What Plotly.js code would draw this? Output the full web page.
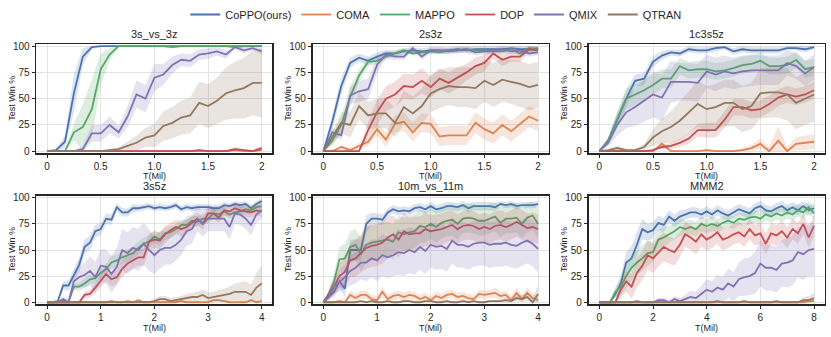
<!DOCTYPE html>
<html>
<head>
<meta charset="utf-8">
<script src="https://cdn.plot.ly/plotly-3.0.1.min.js"></script>
<style>
  body { margin: 0; background: #fff; }
  #chart { width: 831px; height: 337px; }
</style>
</head>
<body>
<div id="chart"></div>
<script>
// method names and colours (seaborn "deep")
let methods = ["CoPPO(ours)", "COMA", "MAPPO", "DOP", "QMIX", "QTRAN"];
let colors = ["#4c72b0", "#dd8452", "#55a868", "#c44e52", "#8172b3", "#937860"];

// sample positions (T in millions)
let xTop = [0, 0.083, 0.167, 0.25, 0.333, 0.417, 0.5, 0.583, 0.667, 0.75, 0.833, 0.917, 1.0,
            1.083, 1.167, 1.25, 1.333, 1.417, 1.5, 1.583, 1.667, 1.75, 1.833, 1.917, 2.0];
let xMid = [0, 0.1, 0.2, 0.3, 0.4, 0.5, 0.6, 0.7, 0.8, 0.9, 1.0, 1.1, 1.2, 1.3, 1.4, 1.5, 1.6, 1.7, 1.8, 1.9, 2.0,
            2.1, 2.2, 2.3, 2.4, 2.5, 2.6, 2.7, 2.8, 2.9, 3.0, 3.1, 3.2, 3.3, 3.4, 3.5, 3.6, 3.7, 3.8, 3.9, 4.0];
let xLong = [0, 0.2, 0.4, 0.6, 0.8, 1.0, 1.2, 1.4, 1.6, 1.8, 2.0, 2.2, 2.4, 2.6, 2.8, 3.0, 3.2, 3.4, 3.6, 3.8, 4.0,
             4.2, 4.4, 4.6, 4.8, 5.0, 5.2, 5.4, 5.6, 5.8, 6.0, 6.2, 6.4, 6.6, 6.8, 7.0, 7.2, 7.4, 7.6, 7.8, 8.0];

// tick labels
let yTicks = [0, 25, 50, 75, 100];
let xTicksTop = [0, 0.5, 1, 1.5, 2];
let xTickTextTop = ["0", "0.5", "1.0", "1.5", "2"];
let xTicksMid = [0, 1, 2, 3, 4];
let xTicksLong = [0, 2, 4, 6, 8];

// ---- 3s_vs_3z : mean win % and spread ----
let s3v3z_coppo = [0,1,9,55,90,99,100,100,100,100,100,100,100,100,100,100,100,100,100,100,100,100,100,100,100];
let s3v3z_coppoSd = [0,1,6,18,8,2,1,1,1,1,1,1,1,1,1,1,1,1,1,1,1,1,1,1,1];
let s3v3z_coma = [0,0,0,0,0,0,0,0,0,0,0,0,0,0,0,0,0,0,0,0,0,1,0,0,1];
let s3v3z_comaSd = [0,0,0,0,0,0,0,0,0,0,0,0,0,0,0,0,0,0,0,0,0,1,1,1,1];
let s3v3z_mappo = [0,0,0,18,23,40,78,92,100,100,100,100,100,100,99,100,100,100,100,100,100,99,100,100,100];
let s3v3z_mappoSd = [0,0,1,8,22,28,15,6,1,1,1,1,1,1,1,1,1,1,1,1,1,1,1,1,1];
let s3v3z_dop = [0,0,0,0,0,0,0,0,0,0,0,0,0,0,0,0,0,1,0,0,0,2,1,0,3];
let s3v3z_dopSd = [0,0,0,0,0,0,0,0,0,0,0,0,0,0,0,0,0,1,1,0,1,2,1,1,2];
let s3v3z_qmix = [0,0,0,0,2,17,17,25,18,33,54,50,70,73,82,87,86,92,93,95,92,99,96,98,95];
let s3v3z_qmixSd = [0,0,0,1,3,8,8,8,6,10,13,13,13,10,8,6,6,5,5,4,4,2,3,2,3];
let s3v3z_qtran = [0,0,0,0,0,0,0,1,2,5,8,13,15,24,27,32,34,46,43,48,55,58,60,65,65];
let s3v3z_qtranSd = [0,0,0,0,0,0,1,1,2,4,7,9,11,14,15,16,17,20,21,22,25,27,29,31,33];

// ---- 2s3z ----
let s2s3z_coppo = [0,28,62,84,89,86,90,93,93,95,96,95,96,96,96,97,96,97,97,97,97,98,97,97,98];
let s2s3z_coppoSd = [0,8,8,5,4,4,4,3,3,3,3,3,3,3,3,3,3,3,3,3,3,3,3,3,3];
let s2s3z_coma = [0,0,4,1,5,9,21,11,26,28,18,27,26,14,15,15,15,27,21,17,25,19,26,33,29];
let s2s3z_comaSd = [0,0,2,2,3,4,6,7,8,9,9,9,9,9,9,9,9,10,10,10,10,10,10,10,10];
let s2s3z_mappo = [0,10,25,52,72,85,86,90,93,96,93,94,95,94,96,96,97,96,96,96,95,97,93,98,97];
let s2s3z_mappoSd = [0,5,8,10,6,4,3,3,2,2,2,2,2,2,2,2,2,2,2,2,2,2,3,2,2];
let s2s3z_dop = [0,0,0,0,0,20,37,50,54,62,61,67,61,69,65,70,75,81,84,93,87,90,90,97,96];
let s2s3z_dopSd = [0,0,0,0,0,8,12,12,12,12,12,12,10,10,10,10,8,8,8,5,6,5,5,3,3];
let s2s3z_qmix = [0,18,15,53,57,59,82,92,90,90,98,90,96,96,95,96,97,94,95,95,97,95,96,93,94];
let s2s3z_qmixSd = [0,4,4,8,10,10,8,4,3,3,2,3,3,3,3,3,3,3,3,3,3,3,3,3,3];
let s2s3z_qtran = [0,13,27,25,43,34,36,36,27,42,36,43,55,59,62,61,61,60,67,63,68,66,64,61,63];
let s2s3z_qtranSd = [0,6,10,12,13,13,14,14,14,16,16,17,18,18,18,19,19,20,20,21,21,21,22,22,22];

// ---- 1c3s5z ----
let s1c3s5z_coppo = [0,10,30,50,67,69,85,91,94,93,97,96,96,98,99,95,97,96,96,96,96,98,98,97,99];
let s1c3s5z_coppoSd = [0,3,6,8,6,6,5,4,3,3,3,3,3,3,2,3,3,3,3,3,3,2,2,3,2];
let s1c3s5z_coma = [0,0,0,0,0,0,0,7,0,0,0,0,1,0,0,0,1,3,7,0,10,0,7,8,9];
let s1c3s5z_comaSd = [0,0,0,0,0,0,1,3,1,0,0,0,1,1,1,1,2,3,5,4,14,4,6,7,7];
let s1c3s5z_mappo = [0,10,30,50,54,58,63,69,69,81,77,78,78,76,77,79,82,83,86,81,81,82,87,78,80];
let s1c3s5z_mappoSd = [0,4,8,10,10,10,10,9,9,8,8,8,8,8,8,8,8,8,8,8,8,8,8,8,8];
let s1c3s5z_dop = [0,0,0,0,0,0,1,4,5,8,12,20,20,20,30,42,42,39,40,45,51,54,52,54,58];
let s1c3s5z_dopSd = [0,0,0,0,0,0,1,2,3,4,5,6,7,7,8,8,8,8,8,8,8,8,8,8,8];
let s1c3s5z_qmix = [0,8,25,37,42,48,54,51,66,66,66,65,76,73,76,74,76,77,77,77,77,84,81,74,80];
let s1c3s5z_qmixSd = [0,4,10,15,18,20,22,22,20,18,18,18,16,16,15,15,15,15,14,14,14,12,12,12,12];
let s1c3s5z_qtran = [0,1,3,1,1,4,13,19,23,29,37,45,40,42,46,46,40,43,55,56,56,54,46,50,54];
let s1c3s5z_qtranSd = [0,1,2,1,1,3,8,12,15,18,20,22,22,22,22,22,22,22,24,24,24,25,25,25,26];

// ---- 3s5z ----
let s3s5z_coppo = [0,0,1,16,16,26,36,53,57,68,70,80,79,91,86,86,90,90,91,92,90,
                   91,90,91,93,89,91,90,91,91,91,90,90,93,92,94,93,94,90,94,97];
let s3s5z_coppoSd = [0,1,1,4,5,6,7,7,7,6,6,5,5,4,4,4,4,3,3,3,3,
                     3,3,3,3,3,3,3,3,3,3,3,3,3,3,3,3,3,3,3,3];
let s3s5z_coma = [0,0,0,0,0,0,0,0,0,0,0,0,1,0,0,1,0,2,0,0,0,
                  0,0,0,0,1,0,0,0,0,0,2,2,1,0,0,0,0,2,0,1];
let s3s5z_comaSd = [0,0,0,0,0,0,0,0,0,0,1,1,1,1,1,1,1,1,1,1,1,
                    1,1,1,1,1,1,1,1,1,1,1,1,1,1,1,1,1,1,1,1];
let s3s5z_mappo = [0,0,0,0,0,15,15,18,22,23,28,32,38,40,43,45,47,52,56,58,63,
                   60,66,67,70,74,74,78,77,80,80,85,84,87,84,86,87,89,88,91,92];
let s3s5z_mappoSd = [0,0,0,0,0,3,4,5,5,5,5,5,6,6,6,6,6,6,6,6,6,
                     6,6,6,5,5,5,5,5,5,5,5,5,4,4,4,4,4,4,4,4];
let s3s5z_dop = [0,0,0,0,0,0,0,7,8,14,20,27,22,24,32,37,40,43,43,58,60,
                 59,65,69,72,70,72,76,80,75,85,85,81,88,87,90,88,87,86,88,87];
let s3s5z_dopSd = [0,0,0,0,0,0,0,3,4,5,6,7,7,7,8,8,8,8,8,8,8,
                   8,8,7,7,7,7,6,6,6,6,5,5,5,5,5,5,5,5,5,5];
let s3s5z_qmix = [0,0,0,3,0,20,24,26,30,24,35,34,27,34,50,47,52,50,56,50,45,
                  50,52,52,55,60,68,70,80,75,80,80,80,80,72,85,84,80,74,84,88];
let s3s5z_qmixSd = [0,0,1,2,3,8,10,12,14,15,16,16,18,18,20,20,20,20,20,20,18,
                    18,16,16,15,15,14,14,12,12,12,12,12,12,12,10,10,10,10,8,8];
let s3s5z_qtran = [0,0,0,0,0,0,0,0,0,0,0,0,0,0,0,0,0,0,0,0,1,
                   3,3,1,2,3,4,5,5,7,4,5,6,7,8,10,10,10,7,14,18];
let s3s5z_qtranSd = [0,0,0,0,0,0,0,0,0,0,0,0,0,0,1,1,1,1,1,1,2,
                     3,3,3,3,3,4,4,5,5,5,5,6,6,7,8,9,10,10,14,17];

// ---- 10m_vs_11m ----
let s10m_coppo = [0,5,10,20,13,50,50,50,75,80,80,79,86,89,87,88,87,90,91,89,92,
                  89,90,92,92,91,93,90,92,92,92,92,91,94,93,94,92,93,93,93,94];
let s10m_coppoSd = [0,3,5,6,8,10,10,10,8,6,5,5,4,4,4,4,4,4,4,4,4,
                    4,4,4,4,4,4,4,4,4,4,4,4,3,3,3,3,3,3,3,3];
let s10m_coma = [0,0,0,1,0,7,4,7,7,3,2,10,3,6,7,5,7,6,3,5,2,
                 6,4,7,8,5,6,4,3,8,7,8,9,6,7,2,9,3,9,4,2];
let s10m_comaSd = [0,0,1,2,2,4,4,4,4,4,4,5,4,4,4,4,4,4,4,4,4,
                   4,4,4,4,4,4,4,4,4,4,4,5,4,4,4,5,4,5,4,4];
let s10m_mappo = [0,8,20,41,42,53,55,46,55,57,58,59,60,58,67,65,67,68,73,72,75,
                  72,76,78,79,75,80,81,80,78,78,80,82,76,80,80,81,75,81,83,75];
let s10m_mappoSd = [0,4,8,12,14,15,15,16,17,17,17,17,17,17,16,16,16,16,16,15,15,
                    15,15,15,15,15,14,14,14,14,14,14,14,14,14,14,14,14,14,14,14];
let s10m_dop = [0,7,15,25,29,40,42,47,52,54,55,57,62,65,60,68,65,66,66,70,68,
                69,70,72,74,70,73,74,73,70,72,70,73,74,72,74,77,74,71,72,70];
let s10m_dopSd = [0,4,8,12,14,16,18,18,20,20,20,20,20,18,18,18,16,16,16,16,15,
                  15,15,15,14,14,14,14,14,14,14,14,14,14,14,14,14,14,14,14,14];
let s10m_qmix = [0,5,15,20,24,30,33,38,38,42,40,45,43,45,48,47,50,48,53,49,55,
                 53,54,51,59,55,55,53,56,57,57,55,56,56,57,55,54,57,59,56,51];
let s10m_qmixSd = [0,3,6,10,12,14,15,16,18,18,20,20,20,20,22,22,22,22,22,22,22,
                   22,22,22,22,22,22,22,22,22,22,22,22,22,22,22,22,22,22,22,23];
let s10m_qtran = [0,0,0,0,0,0,0,1,0,1,0,0,1,0,0,1,1,0,0,1,1,
                  0,0,1,0,0,1,0,1,0,0,1,1,1,2,1,4,3,5,0,8];
let s10m_qtranSd = [0,0,1,1,1,1,1,1,1,1,1,1,1,1,1,1,1,1,1,1,1,
                    1,1,1,1,1,1,1,1,1,1,1,1,1,2,2,3,4,4,4,8];

// ---- MMM2 ----
let sMMM2_coppo = [0,0,0,8,18,38,42,55,70,67,69,76,74,82,78,82,84,86,86,84,87,
                   84,88,85,83,86,89,87,85,90,92,88,87,90,92,88,91,88,92,88,90];
let sMMM2_coppoSd = [0,0,1,4,8,10,12,12,10,8,8,7,7,6,6,6,5,5,5,5,5,
                     5,5,5,5,5,5,5,5,5,5,5,5,5,5,5,5,5,5,5,4];
let sMMM2_coma = [0,0,0,0,0,0,0,0,0,0,0,0,0,0,0,0,0,0,0,0,0,
                  0,0,0,0,0,0,0,0,0,0,0,0,0,0,0,0,0,0,1,1];
let sMMM2_comaSd = [0,0,0,0,0,0,0,0,0,0,0,0,0,0,0,0,0,0,0,0,0,
                    0,0,0,0,0,0,0,0,0,0,0,0,0,0,0,0,0,1,2,2];
let sMMM2_mappo = [0,0,0,10,15,25,33,38,42,47,48,60,62,65,68,72,70,72,70,75,73,
                   75,73,76,78,76,80,79,81,82,80,84,82,85,83,86,84,88,86,91,85];
let sMMM2_mappoSd = [0,0,1,5,8,12,12,12,12,12,10,10,10,8,8,8,8,7,7,7,7,
                     7,7,6,6,6,6,6,6,6,6,6,6,6,6,6,6,6,6,6,6];
let sMMM2_dop = [0,0,0,0,12,20,15,28,35,45,42,48,53,50,48,55,65,62,58,65,60,
                 63,67,60,62,65,67,63,70,64,66,56,66,64,68,62,70,66,75,62,73];
let sMMM2_dopSd = [0,0,0,2,8,10,12,14,14,14,14,14,14,13,13,12,12,12,12,12,11,
                   11,11,11,10,10,10,10,10,10,10,10,10,10,10,10,10,10,10,10,10];
let sMMM2_qmix = [0,0,0,0,0,0,0,1,0,0,0,2,2,0,3,1,3,5,4,8,12,
                  10,14,12,18,15,22,24,25,28,37,33,33,31,37,38,40,48,46,50,51];
let sMMM2_qmixSd = [0,0,0,0,0,0,0,1,1,1,1,2,2,2,3,3,4,6,6,8,10,
                    10,12,12,14,14,16,18,18,20,22,22,22,22,22,24,24,24,25,25,26];
let sMMM2_qtran = [0,0,0,0,0,0,0,0,0,0,0,0,0,0,0,0,0,0,0,0,0,
                   0,1,0,0,0,0,1,0,0,0,0,0,1,0,0,0,0,2,2,4];
let sMMM2_qtranSd = [0,0,0,0,0,0,0,0,0,0,0,0,0,0,0,0,0,0,0,0,0,
                     0,1,0,0,0,0,1,0,0,0,0,0,1,1,1,1,1,3,4,5];

// panel list, row by row
let panels = [
  {title: "3s_vs_3z", x: xTop, range: [-0.1, 2.1], tv: xTicksTop, tt: xTickTextTop,
   lines: [s3v3z_coppo, s3v3z_coma, s3v3z_mappo, s3v3z_dop, s3v3z_qmix, s3v3z_qtran],
   sds: [s3v3z_coppoSd, s3v3z_comaSd, s3v3z_mappoSd, s3v3z_dopSd, s3v3z_qmixSd, s3v3z_qtranSd]},
  {title: "2s3z", x: xTop, range: [-0.1, 2.1], tv: xTicksTop, tt: xTickTextTop,
   lines: [s2s3z_coppo, s2s3z_coma, s2s3z_mappo, s2s3z_dop, s2s3z_qmix, s2s3z_qtran],
   sds: [s2s3z_coppoSd, s2s3z_comaSd, s2s3z_mappoSd, s2s3z_dopSd, s2s3z_qmixSd, s2s3z_qtranSd]},
  {title: "1c3s5z", x: xTop, range: [-0.1, 2.1], tv: xTicksTop, tt: xTickTextTop,
   lines: [s1c3s5z_coppo, s1c3s5z_coma, s1c3s5z_mappo, s1c3s5z_dop, s1c3s5z_qmix, s1c3s5z_qtran],
   sds: [s1c3s5z_coppoSd, s1c3s5z_comaSd, s1c3s5z_mappoSd, s1c3s5z_dopSd, s1c3s5z_qmixSd, s1c3s5z_qtranSd]},
  {title: "3s5z", x: xMid, range: [-0.2, 4.2], tv: xTicksMid, tt: xTicksMid.map(String),
   lines: [s3s5z_coppo, s3s5z_coma, s3s5z_mappo, s3s5z_dop, s3s5z_qmix, s3s5z_qtran],
   sds: [s3s5z_coppoSd, s3s5z_comaSd, s3s5z_mappoSd, s3s5z_dopSd, s3s5z_qmixSd, s3s5z_qtranSd]},
  {title: "10m_vs_11m", x: xMid, range: [-0.2, 4.2], tv: xTicksMid, tt: xTicksMid.map(String),
   lines: [s10m_coppo, s10m_coma, s10m_mappo, s10m_dop, s10m_qmix, s10m_qtran],
   sds: [s10m_coppoSd, s10m_comaSd, s10m_mappoSd, s10m_dopSd, s10m_qmixSd, s10m_qtranSd]},
  {title: "MMM2", x: xLong, range: [-0.4, 8.4], tv: xTicksLong, tt: xTicksLong.map(String),
   lines: [sMMM2_coppo, sMMM2_coma, sMMM2_mappo, sMMM2_dop, sMMM2_qmix, sMMM2_qtran],
   sds: [sMMM2_coppoSd, sMMM2_comaSd, sMMM2_mappoSd, sMMM2_dopSd, sMMM2_qmixSd, sMMM2_qtranSd]}
];

// axis box positions in paper units (figure is 831 x 337)
let colDomains = [[0.0437, 0.3279], [0.3762, 0.6604], [0.7083, 0.9925]];
let rowDomains = [[0.5451, 0.8694], [0.0970, 0.4193]];

function hexToRgba(hex, a) {
  let r = parseInt(hex.slice(1, 3), 16), g = parseInt(hex.slice(3, 5), 16), b = parseInt(hex.slice(5, 7), 16);
  return "rgba(" + r + "," + g + "," + b + "," + a + ")";
}

let font = "Liberation Sans, Arial, sans-serif";
let ink = "#262626";
let traces = [];
let layout = {
  width: 831, height: 337,
  margin: {l: 0, r: 0, t: 0, b: 0},
  paper_bgcolor: "white", plot_bgcolor: "white",
  font: {family: font, color: ink},
  showlegend: true,
  legend: {orientation: "h", x: 0.525, xanchor: "center", y: 0.958, yanchor: "middle",
           font: {size: 11, color: ink}, itemwidth: 30, tracegroupgap: 0},
  annotations: []
};

panels.forEach((p, i) => {
  let k = i + 1;
  let xa = "x" + (k === 1 ? "" : k), ya = "y" + (k === 1 ? "" : k);
  let row = Math.floor(i / 3), col = i % 3;

  p.lines.forEach((m, s) => {
    let sd = p.sds[s];
    let upper = m.map((v, j) => Math.min(100, v + sd[j]));
    let lower = m.map((v, j) => Math.max(0, v - sd[j]));
    // shaded spread as one closed polygon
    traces.push({
      x: p.x.concat(p.x.slice().reverse()),
      y: upper.concat(lower.slice().reverse()),
      xaxis: xa, yaxis: ya, type: "scatter", mode: "lines",
      fill: "toself", fillcolor: hexToRgba(colors[s], 0.2),
      line: {width: 0, color: "rgba(0,0,0,0)"},
      hoverinfo: "skip", showlegend: false
    });
    traces.push({
      x: p.x, y: m, xaxis: xa, yaxis: ya, type: "scatter", mode: "lines",
      name: methods[s], legendgroup: methods[s], showlegend: i === 0,
      line: {color: colors[s], width: 1.8}
    });
  });

  let axisCommon = {
    showline: true, linecolor: ink, linewidth: 1.2, mirror: true,
    ticks: "outside", ticklen: 3.5, tickwidth: 1, tickcolor: ink,
    showgrid: true, gridcolor: "#e3e3e3", gridwidth: 1, zeroline: false,
    tickfont: {size: 10, color: ink}, fixedrange: true
  };
  layout["xaxis" + (k === 1 ? "" : k)] = Object.assign({}, axisCommon, {
    domain: colDomains[col], anchor: ya, range: p.range,
    tickmode: "array", tickvals: p.tv, ticktext: p.tt
  });
  layout["yaxis" + (k === 1 ? "" : k)] = Object.assign({}, axisCommon, {
    domain: rowDomains[row], anchor: xa, range: [-2, 102],
    tickmode: "array", tickvals: yTicks, ticktext: yTicks.map(String)
  });

  let cx = (colDomains[col][0] + colDomains[col][1]) / 2;
  let cy = (rowDomains[row][0] + rowDomains[row][1]) / 2;
  // subplot title, sitting just above the frame
  layout.annotations.push({text: p.title, xref: "paper", yref: "paper", x: cx, y: rowDomains[row][1] + 0.006,
    xanchor: "center", yanchor: "bottom", showarrow: false, font: {size: 11, color: ink}});
  // x title
  layout.annotations.push({text: "T(Mil)", xref: "paper", yref: "paper", x: cx, y: row === 0 ? 0.478 : 0.026,
    xanchor: "center", yanchor: "middle", showarrow: false, font: {size: 9, color: ink}});
  // y title
  layout.annotations.push({text: "Test Win %", xref: "paper", yref: "paper",
    x: (12 + col * 276) / 831, y: cy, xanchor: "center", yanchor: "middle",
    textangle: -90, showarrow: false, font: {size: 9, color: ink}});
});

Plotly.newPlot("chart", traces, layout, {displayModeBar: false, staticPlot: true});
</script>
</body>
</html>
